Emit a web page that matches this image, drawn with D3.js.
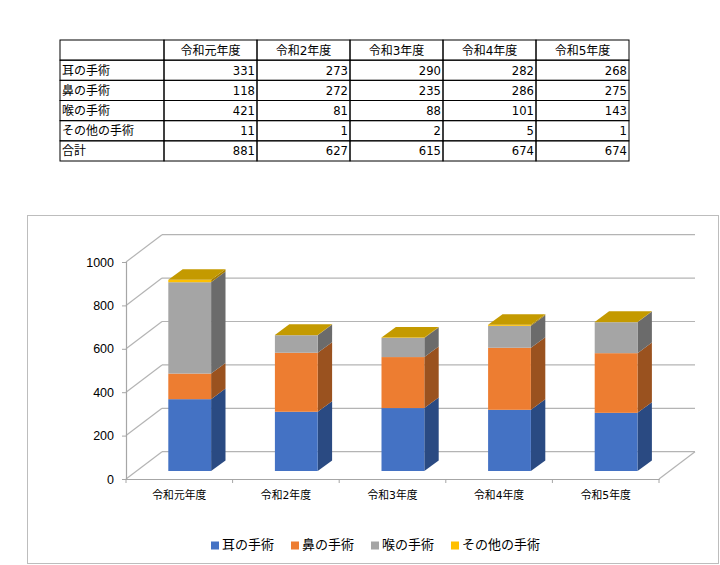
<!DOCTYPE html>
<html>
<head>
<meta charset="utf-8">
<script src="https://cdn.jsdelivr.net/npm/d3@7"></script>
<style>
  html, body { margin: 0; padding: 0; background: #fff; }
  text { font-family: "DejaVu Sans", "Noto Sans CJK JP", sans-serif; fill: #000; }
</style>
</head>
<body>
<div id="container"></div>
<script>
// data
const years = ["令和元年度", "令和2年度", "令和3年度", "令和4年度", "令和5年度"];
const series = ["耳の手術", "鼻の手術", "喉の手術", "その他の手術"];
const ear = [331, 273, 290, 282, 268];
const nose = [118, 272, 235, 286, 275];
const throat = [421, 81, 88, 101, 143];
const other = [11, 1, 2, 5, 1];
const totals = [881, 627, 615, 674, 674];
const yTicks = [0, 200, 400, 600, 800, 1000];

const values = [ear, nose, throat, other];
const front = ["#4472C4", "#ED7D31", "#A5A5A5", "#FFC000"];
const side = ["#2A4A82", "#9A521F", "#6B6B6B", "#A67D00"];
const topColor = "#C49A00";

const w = 720;
const h = 565;

const svg = d3.select("#container").append("svg")
  .attr("width", w)
  .attr("height", h)
  .style("display", "block");

// ---- table
const rowNames = [""].concat(series, ["合計"]);
const tableRows = [years].concat(values, [totals]);
const colX = d3.scaleBand().domain(years).range([164, 629]);
const rowY = d3.scaleBand().domain(d3.range(rowNames.length)).range([40, 161]);

const table = svg.append("g").attr("class", "table");

rowNames.forEach((name, r) => {
  table.append("rect")
    .attr("x", 60).attr("y", rowY(r))
    .attr("width", 104).attr("height", rowY.bandwidth())
    .attr("fill", "none").attr("stroke", "#000");
  table.append("text")
    .attr("x", 62).attr("y", rowY(r) + rowY.bandwidth() / 2 + 4.5)
    .attr("font-size", 12)
    .text(name);
  years.forEach((yr, c) => {
    table.append("rect")
      .attr("x", colX(yr)).attr("y", rowY(r))
      .attr("width", colX.bandwidth()).attr("height", rowY.bandwidth())
      .attr("fill", "none").attr("stroke", "#000");
    table.append("text")
      .attr("x", r === 0 ? colX(yr) + colX.bandwidth() / 2 : colX(yr) + colX.bandwidth() - 2)
      .attr("y", rowY(r) + rowY.bandwidth() / 2 + 4.5)
      .attr("text-anchor", r === 0 ? "middle" : "end")
      .attr("font-size", r === 0 ? 12 : 11.6)
      .text(tableRows[r][c]);
  });
});

// ---- chart frame
svg.append("rect")
  .attr("x", 27.5).attr("y", 215.5)
  .attr("width", 691).attr("height", 348)
  .attr("fill", "#fff").attr("stroke", "#BDBDBD");

const x = d3.scaleBand().domain(years).range([126, 659]);
const y = d3.scaleLinear().domain([0, 1000]).range([479, 262]);

// wall depth and bar depth
const wallDx = 36, wallDy = 27.3;
const barOffset = 42.3, barWidth = 42.8, barLift = 8;
const barDx = 14.4, barDy = 10.6;

// grid on the walls
const grid = svg.append("g").attr("stroke", "#B4B4B4").attr("stroke-width", 1.2);
yTicks.forEach(t => {
  grid.append("line")
    .attr("x1", 126).attr("y1", y(t))
    .attr("x2", 126 + wallDx).attr("y2", y(t) - wallDy);
  grid.append("line")
    .attr("x1", 126 + wallDx).attr("y1", y(t) - wallDy)
    .attr("x2", 659 + wallDx).attr("y2", y(t) - wallDy);
});
grid.append("line")
  .attr("x1", 659).attr("y1", y(0))
  .attr("x2", 659 + wallDx).attr("y2", y(0) - wallDy);

// axes
const yAxis = d3.axisLeft(y).tickValues(yTicks).tickFormat(d3.format("d")).tickSize(4).tickPadding(8);
const xAxis = d3.axisBottom(x).tickSize(0).tickPadding(10);

const gy = svg.append("g").attr("transform", "translate(126,0)").call(yAxis);
gy.selectAll("text")
  .attr("font-size", 12.5)
  .style("font-family", "'Liberation Sans', sans-serif");
const gx = svg.append("g").attr("transform", "translate(0,479)").call(xAxis);
gx.selectAll("text").attr("font-size", 10.8).attr("dy", "0.9em");

svg.selectAll(".domain").attr("stroke", "#A6A6A6").attr("stroke-width", 1.2);
svg.selectAll(".tick line").attr("stroke", "#A6A6A6");

gx.selectAll(".edge")
  .data(x.domain().map(d => x(d)).concat([659]))
  .enter().append("line")
  .attr("x1", d => d).attr("x2", d => d)
  .attr("y1", 0).attr("y2", 4)
  .attr("stroke", "#A6A6A6");

// stacked 3d bars
const stackData = years.map((yr, i) => {
  const row = { year: yr };
  series.forEach((s, k) => { row[s] = values[k][i]; });
  return row;
});
const stacked = d3.stack().keys(series)(stackData);
const barY = v => y(v) - barLift;
const pts = a => a.map(p => p.join(",")).join(" ");

stacked.forEach((layer, k) => {
  const g = svg.append("g").attr("class", "series-" + k);
  layer.forEach(d => {
    const x0 = x(d.data.year) + barOffset;
    const x1 = x0 + barWidth;
    const yLow = barY(d[0]);
    const yHigh = barY(d[1]);
    // side face
    g.append("polygon")
      .attr("points", pts([[x1, yLow], [x1 + barDx, yLow - barDy], [x1 + barDx, yHigh - barDy], [x1, yHigh]]))
      .attr("fill", side[k]);
    // front face
    g.append("rect")
      .attr("x", x0).attr("y", yHigh)
      .attr("width", barWidth).attr("height", yLow - yHigh)
      .attr("fill", front[k]);
    // the last series carries the lid of the column
    if (k === stacked.length - 1) {
      g.append("polygon")
        .attr("points", pts([[x0, yHigh], [x0 + barDx, yHigh - barDy], [x1 + barDx, yHigh - barDy], [x1, yHigh]]))
        .attr("fill", topColor);
    }
  });
});

// legend
let legendX = 211;
series.forEach((s, k) => {
  svg.append("rect")
    .attr("x", legendX).attr("y", 541.5)
    .attr("width", 8).attr("height", 8)
    .attr("fill", front[k]);
  svg.append("text")
    .attr("x", legendX + 11).attr("y", 549)
    .attr("font-size", 13)
    .text(s);
  legendX += s.length * 13 + 28;
});
</script>
</body>
</html>
